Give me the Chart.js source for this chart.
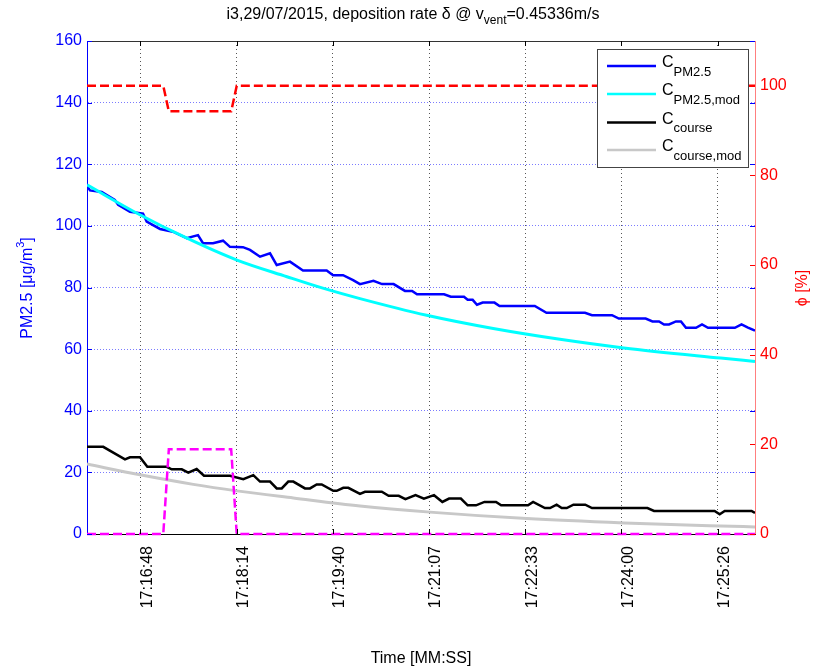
<!DOCTYPE html>
<html>
<head>
<meta charset="utf-8">
<script src="https://cdn.jsdelivr.net/npm/chart.js@4.4.1/dist/chart.umd.min.js"></script>
<style>
  html, body { margin: 0; padding: 0; background: #fff; }
  canvas { display: block; }
</style>
</head>
<body>
<canvas id="chart" width="813" height="670"></canvas>
<script>
// time in seconds after 17:16:00
const xTickSeconds = [48, 134.4, 220.8, 307.2, 393.6, 480, 566.4];
const xTickLabels = ['17:16:48', '17:18:14', '17:19:40', '17:21:07', '17:22:33', '17:24:00', '17:25:26'];
const leftTicks = [0, 20, 40, 60, 80, 100, 120, 140, 160];
const rightTicks = [0, 20, 40, 60, 80, 100];

// C PM2.5 (measured)
const pmTime = [0, 2.7, 13.2, 25, 28, 38.6, 50.3, 53.6, 65.6, 77.2, 89.6, 99.7, 104.2, 113.2, 122.2, 128.4, 140.1, 146.4,
  155.4, 164.4, 170.4, 182.3, 194, 215.3, 221, 230, 239, 245.2, 257.3, 265, 275.4, 285.6, 292, 296.4, 320.7, 326.8,
  338.6, 341.9, 346.4, 350.3, 355.4, 366, 370.5, 402.2, 412.7, 447.3, 453.6, 471.6, 477.7, 501.8, 507.9, 513.8,
  518.3, 522.8, 529, 533.5, 538, 547, 552.4, 557.8, 581.9, 587.9, 593.7, 600];
const pmValues = [113, 111.5, 111, 108.4, 106.8, 104.6, 104, 101.4, 99, 98.1, 96, 97, 94.4, 94.4, 95.2, 93.2, 93.1, 92.2,
  90, 91.1, 87.3, 88.4, 85.5, 85.5, 84, 84, 82.4, 81.1, 82.2, 81.1, 81.1, 78.9, 78.9, 77.8, 77.8, 77,
  77, 76, 76, 74.4, 75.1, 75.1, 74, 74, 71.8, 71.8, 71, 71, 69.9, 69.9, 69, 69,
  68, 68, 69, 69, 66.9, 66.9, 68, 66.9, 66.9, 68, 67, 66];

// C PM2.5,mod (model)
const pmModTime = [0, 44.9, 89.8, 134.7, 179.6, 212.6, 245.2, 305.1, 364.9, 424.8, 482.2, 569.2, 600];
const pmModValues = [113.3, 104.1, 96, 88.9, 83.5, 79.7, 76.4, 71, 66.7, 63.2, 60.4, 57.1, 56];

// C course (measured)
const courseTime = [0, 14.6, 23.6, 34.1, 38.6, 47.6, 54.2, 71.6, 76.1, 85.1, 91, 98.5, 105.1, 128.4, 140.4, 149.4,
  155.4, 164.4, 170.4, 174.9, 180.8, 185.3, 195.8, 200.3, 206.3, 210.8, 221.2, 224.3, 230.2, 234.7, 245.2, 249.7,
  264.8, 270.9, 280, 286, 295.1, 302.6, 311.7, 319.2, 325.2, 335.8, 341.9, 349.4, 357, 367.4, 372, 396.1, 400.7,
  411.3, 415.9, 421.8, 426.4, 430.9, 436.9, 447.5, 453.6, 503.4, 509.3, 563.7, 568.3, 572.8, 596.9, 600];
const courseValues = [28.3, 28.3, 26.4, 24.2, 24.9, 24.9, 21.8, 21.8, 21, 21, 19.9, 21.1, 18.9, 18.9, 17.8, 19.1,
  17, 17, 14.8, 14.8, 17, 17, 14.8, 14.8, 16.1, 16.1, 14, 14, 15, 15, 13, 13.7,
  13.7, 12.4, 12.4, 11.3, 12.6, 11.5, 12.6, 10.4, 11.5, 11.5, 9.3, 9.3, 10.4, 10.4, 9.3, 9.3, 10.4,
  8.4, 8.4, 9.5, 8.4, 8.4, 9.5, 9.5, 8.4, 8.4, 7.5, 7.5, 6.4, 7.5, 7.5, 6.8];

// C course,mod (model)
const courseModTime = [0, 47.6, 95.5, 134.5, 185.3, 245.2, 308, 395, 482.4, 569.2, 600];
const courseModValues = [22.7, 19.2, 16.1, 14, 11.7, 9.1, 7.1, 5, 3.6, 2.6, 2.3];

// phi [%] (right axis) and the second dashed series
const phiTime = [0, 68.5, 73.5, 129.5, 134.5, 600];
const phiValues = [100, 100, 94.3, 94.3, 100, 100];
const doorValues = [0, 0, 18.9, 18.9, 0, 0];

const FONT = '"Liberation Sans", Arial, sans-serif';

function pts(xs, ys) {
  return xs.map((x, i) => ({ x: x, y: ys[i] }));
}

// draw a run of text pieces (for sub/superscripts)
function richWidth(ctx, parts) {
  let w = 0;
  parts.forEach(p => { ctx.font = p.size + 'px ' + FONT; w += ctx.measureText(p.t).width; });
  return w;
}
function drawRich(ctx, parts, x, y, align) {
  let cx = align === 'center' ? x - richWidth(ctx, parts) / 2 : x;
  ctx.textAlign = 'left';
  ctx.textBaseline = 'alphabetic';
  parts.forEach(p => {
    ctx.font = p.size + 'px ' + FONT;
    ctx.fillText(p.t, cx, y + (p.dy || 0));
    cx += ctx.measureText(p.t).width;
  });
}

const legendItems = [
  { color: '#0000ff', sub: 'PM2.5' },
  { color: '#00ffff', sub: 'PM2.5,mod' },
  { color: '#000000', sub: 'course' },
  { color: '#c8c8c8', sub: 'course,mod' }
];

const decorPlugin = {
  id: 'decor',
  afterDraw(chart) {
    const ctx = chart.ctx;
    const a = chart.chartArea;
    const xs = chart.scales.x, yl = chart.scales.y, yr = chart.scales.y2;
    ctx.save();

    // top border
    ctx.strokeStyle = '#333';
    ctx.lineWidth = 1;
    ctx.beginPath();
    ctx.moveTo(a.left, a.top + 0.5);
    ctx.lineTo(a.right, a.top + 0.5);
    ctx.stroke();

    // inward ticks
    const tl = 5;
    ctx.strokeStyle = '#000';
    ctx.beginPath();
    xTickSeconds.forEach(v => {
      const px = Math.round(xs.getPixelForValue(v)) + 0.5;
      ctx.moveTo(px, a.bottom); ctx.lineTo(px, a.bottom - tl);
      ctx.moveTo(px, a.top); ctx.lineTo(px, a.top + tl);
    });
    ctx.stroke();
    ctx.strokeStyle = '#0000ff';
    ctx.beginPath();
    leftTicks.forEach(v => {
      const py = Math.round(yl.getPixelForValue(v)) + 0.5;
      ctx.moveTo(a.left, py); ctx.lineTo(a.left + tl, py);
      ctx.moveTo(a.right, py); ctx.lineTo(a.right - tl, py);
    });
    ctx.stroke();
    ctx.strokeStyle = '#ff0000';
    ctx.beginPath();
    rightTicks.forEach(v => {
      const py = Math.round(yr.getPixelForValue(v)) + 0.5;
      ctx.moveTo(a.right, py); ctx.lineTo(a.right - tl, py);
    });
    ctx.stroke();

    // legend
    const bx = 597.5, by = 49.5, bw = 151, bh = 118;
    ctx.fillStyle = '#fff';
    ctx.fillRect(bx, by, bw, bh);
    ctx.strokeStyle = '#444';
    ctx.lineWidth = 1;
    ctx.strokeRect(bx, by, bw, bh);
    const rows = [66, 94, 122.5, 150];
    legendItems.forEach((it, i) => {
      const ry = rows[i];
      ctx.strokeStyle = it.color;
      ctx.lineWidth = 2.5;
      ctx.beginPath();
      ctx.moveTo(607, ry); ctx.lineTo(656, ry);
      ctx.stroke();
      ctx.fillStyle = '#000';
      drawRich(ctx, [{ t: 'C', size: 16 }, { t: it.sub, size: 13, dy: 8.5 }], 662, ry + 1, 'left');
    });

    // chart title
    ctx.fillStyle = '#000';
    drawRich(ctx, [
      { t: 'i3,29/07/2015, deposition rate \u03b4 @ v', size: 16 },
      { t: 'vent', size: 12, dy: 5 },
      { t: '=0.45336m/s', size: 16 }
    ], 413, 19, 'center');

    // x title
    drawRich(ctx, [{ t: 'Time [MM:SS]', size: 16 }], 421, 663, 'center');

    // left axis title
    ctx.save();
    ctx.translate(32, 288);
    ctx.rotate(-Math.PI / 2);
    ctx.fillStyle = '#0000ff';
    drawRich(ctx, [
      { t: 'PM2.5 [\u03bcg/m', size: 16 },
      { t: '3', size: 11, dy: -8 },
      { t: ']', size: 16 }
    ], 0, 0, 'center');
    ctx.restore();

    // right axis title
    ctx.save();
    ctx.translate(807, 288);
    ctx.rotate(-Math.PI / 2);
    ctx.fillStyle = '#ff0000';
    drawRich(ctx, [{ t: '\u03d5 [%]', size: 16 }], 0, 0, 'center');
    ctx.restore();

    ctx.restore();
  }
};

function initChart() {
  const ctx = document.getElementById('chart').getContext('2d');

  new Chart(ctx, {
    type: 'line',
    data: {
      datasets: [
        {
          label: 'door',
          data: pts(phiTime, doorValues),
          yAxisID: 'y2',
          borderColor: '#ff00ff',
          borderWidth: 2.5,
          borderDash: [9, 4],
          order: 0,
          clip: 5
        },
        {
          label: 'phi',
          data: pts(phiTime, phiValues),
          yAxisID: 'y2',
          borderColor: '#ff0000',
          borderWidth: 2.5,
          borderDash: [9, 4],
          order: 1,
          clip: 5
        },
        {
          label: 'C PM2.5,mod',
          data: pts(pmModTime, pmModValues),
          yAxisID: 'y',
          borderColor: '#00ffff',
          borderWidth: 3,
          cubicInterpolationMode: 'monotone',
          order: 2
        },
        {
          label: 'C PM2.5',
          data: pts(pmTime, pmValues),
          yAxisID: 'y',
          borderColor: '#0000ff',
          borderWidth: 2.5,
          order: 3
        },
        {
          label: 'C course,mod',
          data: pts(courseModTime, courseModValues),
          yAxisID: 'y',
          borderColor: '#c8c8c8',
          borderWidth: 3,
          cubicInterpolationMode: 'monotone',
          order: 4
        },
        {
          label: 'C course',
          data: pts(courseTime, courseValues),
          yAxisID: 'y',
          borderColor: '#000000',
          borderWidth: 2.5,
          order: 5
        }
      ]
    },
    options: {
      responsive: false,
      animation: false,
      layout: { padding: { top: 41, left: 0, right: 0, bottom: 0 } },
      elements: {
        point: { radius: 0 },
        line: { tension: 0, fill: false }
      },
      plugins: {
        legend: { display: false },
        title: { display: false },
        tooltip: { enabled: false }
      },
      scales: {
        x: {
          type: 'linear',
          min: 0,
          max: 600,
          afterBuildTicks: function (scale) {
            scale.ticks = xTickSeconds.map(v => ({ value: v }));
          },
          afterFit: function (scale) { scale.height = 136; },
          ticks: {
            autoSkip: false,
            minRotation: 90,
            maxRotation: 90,
            padding: 12,
            labelOffset: 7,
            color: '#000',
            font: { family: FONT, size: 16 },
            callback: function (value, index) { return xTickLabels[index]; }
          },
          grid: {
            color: '#555',
            drawTicks: false
          },
          border: { display: true, color: '#000', width: 1, dash: [1, 3] }
        },
        y: {
          position: 'left',
          min: 0,
          max: 160,
          afterBuildTicks: function (scale) {
            scale.ticks = leftTicks.map(v => ({ value: v }));
          },
          afterFit: function (scale) { scale.width = 87; },
          ticks: {
            padding: 5,
            color: '#0000ff',
            font: { family: FONT, size: 16 }
          },
          grid: {
            color: 'rgba(100,100,255,0.85)',
            drawTicks: false
          },
          border: { display: true, color: '#0000ff', width: 1, dash: [1, 2] }
        },
        y2: {
          position: 'right',
          min: 0,
          max: 110,
          afterBuildTicks: function (scale) {
            scale.ticks = rightTicks.map(v => ({ value: v }));
          },
          afterFit: function (scale) { scale.width = 58; },
          ticks: {
            padding: 5,
            color: '#ff0000',
            font: { family: FONT, size: 16 }
          },
          grid: { display: false, drawTicks: false },
          border: { display: true, color: 'rgba(255,0,0,0.5)', width: 1 }
        }
      }
    },
    plugins: [decorPlugin]
  });
}

initChart();
</script>
</body>
</html>
